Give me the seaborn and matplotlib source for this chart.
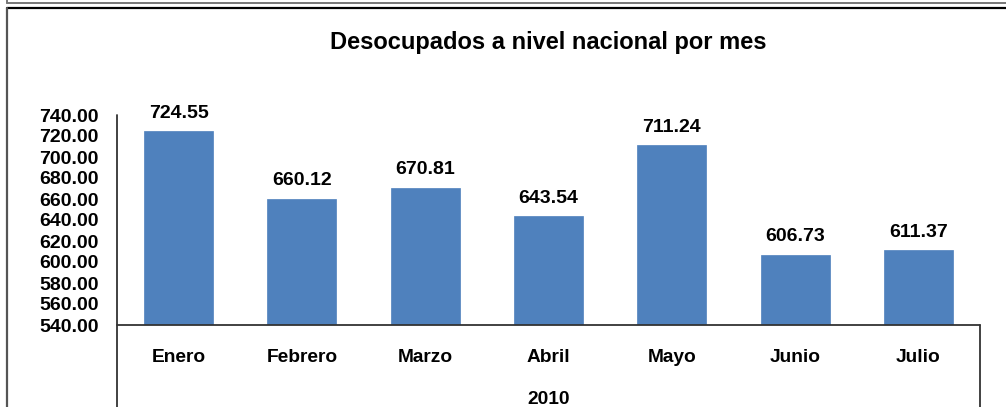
import matplotlib
matplotlib.use("Agg")
import matplotlib.pyplot as plt
from matplotlib.lines import Line2D
import seaborn as sns
import pandas as pd

months = ["Enero", "Febrero", "Marzo", "Abril", "Mayo", "Junio", "Julio"]
values = [724.55, 660.12, 670.81, 643.54, 711.24, 606.73, 611.37]
year_label = "2010"
title = "Desocupados a nivel nacional por mes"
yticks = [540, 560, 580, 600, 620, 640, 660, 680, 700, 720, 740]

sns.set_theme(style="white")
plt.rcParams['font.family'] = ['Liberation Sans', 'DejaVu Sans']
plt.rcParams['font.weight'] = 'bold'
plt.rcParams['text.color'] = 'black'
plt.rcParams['xtick.color'] = 'black'
plt.rcParams['ytick.color'] = 'black'

W, H = 1006, 407
fig = plt.figure(figsize=(W / 100, H / 100), dpi=100)
AX_L, AX_R, AX_T, AX_B = 117, 980, 115, 325
ax = fig.add_axes([AX_L / W, 1 - AX_B / H, (AX_R - AX_L) / W, (AX_B - AX_T) / H])

df = pd.DataFrame({"mes": months, "valor": values})
sns.barplot(data=df, x="mes", y="valor", color="#4F81BD", saturation=1,
            width=0.56, ax=ax, edgecolor="#4F81BD", linewidth=0.5)

ax.set_ylim(540, 740)
ax.set_xlim(-0.5, len(months) - 0.5)
ax.set_yticks(yticks)
ax.set_yticklabels([f"{v:.2f}" for v in yticks], fontsize=14, fontweight="bold")
ax.set_xticks(range(len(months)))
ax.set_xticklabels(months, fontsize=13.8, fontweight="bold")
ax.tick_params(axis="y", length=0, pad=13)
ax.tick_params(axis="x", length=0, pad=17)
ax.set_xlabel("")
ax.set_ylabel("")

for s in ax.spines.values():
    s.set_visible(False)

def fx(px):
    return px / W

def fy(py):
    return 1 - py / H

lc = "#333333"
fig.add_artist(Line2D([fx(AX_L), fx(AX_L)], [fy(AX_T), 0], color=lc, lw=1.3))
fig.add_artist(Line2D([fx(AX_L), fx(AX_R)], [fy(AX_B), fy(AX_B)], color=lc, lw=1.3))
fig.add_artist(Line2D([fx(AX_R), fx(AX_R)], [fy(AX_B), 0], color=lc, lw=1.3))

for i, v in enumerate(values):
    ax.annotate(f"{v:.2f}", (i, v), xytext=(0, 13), textcoords="offset points",
                ha="center", va="center", fontsize=14, fontweight="bold")

ax.text(0.5, fy(399),
        year_label,
        transform=matplotlib.transforms.blended_transform_factory(ax.transAxes, fig.transFigure),
        ha="center", va="center", fontsize=13.8, fontweight="bold")

fig.text(fx(548), fy(42), title, ha="center", va="center",
         fontsize=17, fontweight="bold")

fig.add_artist(Line2D([fx(7), 1.0], [fy(7.5), fy(7.5)], color="black", lw=1.6))
fig.add_artist(Line2D([fx(7), fx(7)], [0, fy(7.5)], color="#555555", lw=1.6))
fig.add_artist(Line2D([fx(7), 1.0], [fy(3), fy(3)], color="#777777", lw=1.4))
fig.add_artist(Line2D([fx(7), fx(7)], [fy(3), 1.0], color="#777777", lw=1.4))

fig.savefig("out.png", dpi=100)
